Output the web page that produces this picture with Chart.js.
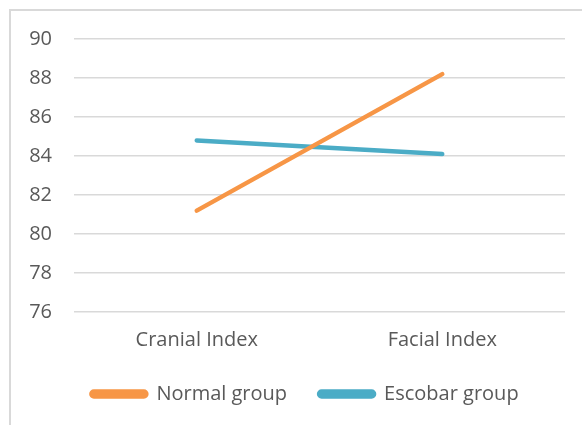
<!DOCTYPE html>
<html>
<head>
<meta charset="utf-8">
<script src="https://cdn.jsdelivr.net/npm/chart.js@4/dist/chart.umd.min.js"></script>
<style>
  html, body { margin: 0; padding: 0; background: #ffffff; }
  #wrap { position: relative; width: 582px; height: 425px; overflow: hidden; }
  #frame { position: absolute; left: 9px; top: 9px; width: 640px; height: 500px;
           border: 2px solid #d9d9d9; box-sizing: border-box; }
  #c { position: absolute; left: 0; top: 0; }
</style>
</head>
<body>
<div id="wrap">
  <div id="frame"></div>
  <canvas id="c" width="582" height="425"></canvas>
</div>
<script>
// Index categories on the x axis
const categories = ['Cranial Index', 'Facial Index'];
// Mean index values per group
const normalGroup = [81.2, 88.2];
const escobarGroup = [84.8, 84.1];
// Y axis range
const yMin = 76;
const yMax = 90;
const yStep = 2;

const textColor = '#595959';
const fontFamily = '"Open Sans", "Noto Sans", sans-serif';

// Nudge the legend row to the right so it sits under the plot body
const legendShift = {
  id: 'legendShift',
  afterLayout(chart) {
    const lg = chart.legend;
    if (lg) { lg.left += 17.5; lg.right += 17.5; }
  }
};

new Chart(document.getElementById('c'), {
  type: 'line',
  data: {
    labels: categories,
    datasets: [
      {
        label: 'Normal group',
        data: normalGroup,
        borderColor: '#f79646',
        backgroundColor: '#f79646',
        borderWidth: 4.5,
        borderCapStyle: 'round',
        pointRadius: 0,
        tension: 0
      },
      {
        label: 'Escobar group',
        data: escobarGroup,
        borderColor: '#4bacc6',
        backgroundColor: '#4bacc6',
        borderWidth: 4.5,
        borderCapStyle: 'round',
        pointRadius: 0,
        tension: 0
      }
    ]
  },
  plugins: [legendShift],
  options: {
    responsive: false,
    animation: false,
    devicePixelRatio: 1,
    layout: { padding: { left: 10, right: 17, top: 39, bottom: 11 } },
    plugins: {
      tooltip: { enabled: false },
      legend: {
        position: 'bottom',
        labels: {
          color: textColor,
          font: { family: fontFamily, size: 20 },
          boxWidth: 55,
          boxHeight: 5,
          padding: 32,
          useBorderRadius: true,
          borderRadius: 2.5
        }
      }
    },
    scales: {
      x: {
        offset: true,
        grid: { display: false, drawTicks: false },
        border: { display: false },
        ticks: {
          color: textColor,
          font: { family: fontFamily, size: 20 },
          padding: 16,
          maxRotation: 0
        },
        afterFit(scale) { scale.height = 40; }
      },
      y: {
        min: yMin,
        max: yMax,
        grid: { color: '#d9d9d9', lineWidth: 1.5, drawTicks: false },
        border: { display: false },
        ticks: {
          stepSize: yStep,
          color: textColor,
          font: { family: fontFamily, size: 20 },
          padding: 22
        },
        afterFit(scale) { scale.width = 64; }
      }
    }
  }
});
</script>
</body>
</html>
